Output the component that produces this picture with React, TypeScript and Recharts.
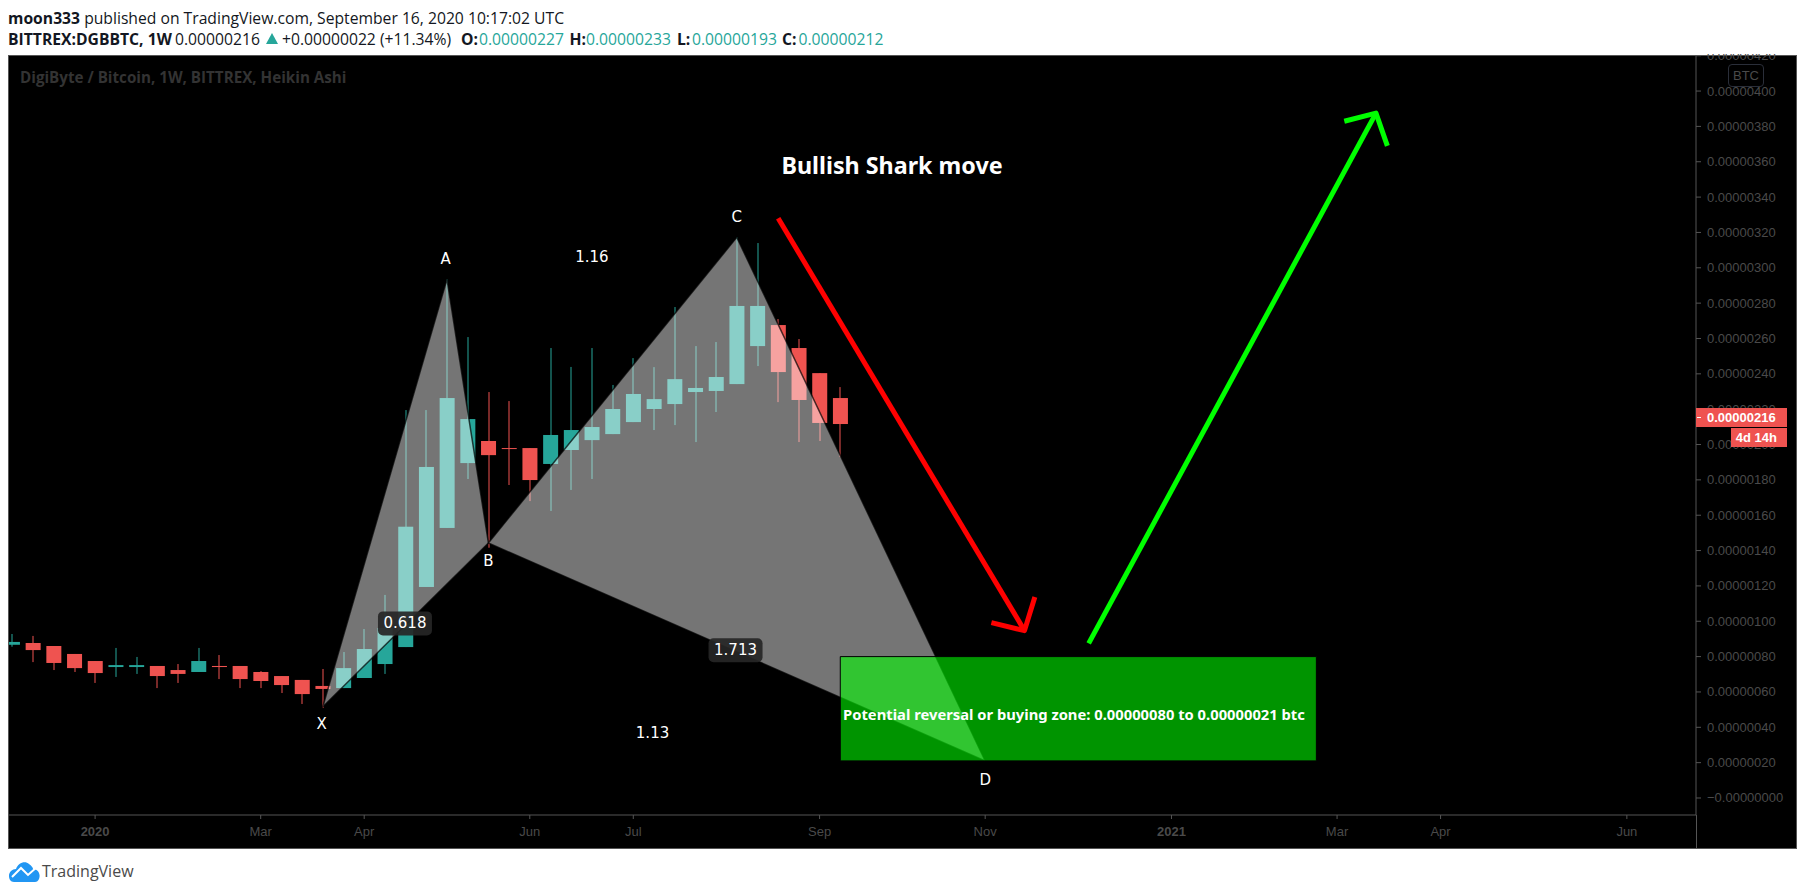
import React from 'react';
import { ComposedChart, Bar, XAxis, YAxis, ReferenceArea, ReferenceDot } from 'recharts';

// All prices are in units of 0.00000001 BTC. Index = weekly bar number.
const candleOpen = [86.7,87.7,86,81.5,77.5,74.1,74.1,74.7,72.4,71.3,74.7,74.7,71.3,69,66.8,63.4,62.2,67.9,75.8,85.4,119.4,152.8,189.5,202,198,198,189,196.9,202.5,205.9,212.7,220.1,222.9,229.7,230.3,234.2,255.7,267.6,254.6,240.4,226.3];
const candleClose = [88.3,83.7,76.4,73.5,70.7,75.2,75.2,69,70.2,77.5,74.1,67.3,66.2,63.9,58.8,61.7,73.5,84.3,96.2,153.5,187.3,226.3,214.4,194,197.5,179.9,205.4,208.2,209.9,220.1,228.6,225.7,237,232,238.2,278.4,278.4,241,225.2,212.2,211.6];
const candleHigh = [92.8,91.7,86,81.5,77.5,84.9,79.8,74.7,75.8,84.9,80.9,74.7,71.8,69,66.8,73,82.6,95.6,114.9,219.5,219.5,293.5,260.8,229.7,224.6,198,254.6,243.9,254.6,233.7,248.9,243.8,277.8,255.7,258,317.2,314,271,259.7,240.4,232.5];
const candleLow = [85.6,76.9,72.4,71.3,65.1,68.5,70.2,62.2,65.1,71.3,67.3,62.2,62.2,59.4,53.2,50.9,62.2,67.9,70.2,85.4,119.4,152.8,180.5,141.6,177.1,168,162.4,174.3,180.5,205.9,212.7,208.2,211,201.4,218.4,234.2,244.4,224,201.4,202,192.9];

const priceTicks = [0,20,40,60,80,100,120,140,160,180,200,220,240,260,280,300,320,340,360,380,400,420];
const timeTicks = [4,12,17,25,30,39,47,56,64,69,78];
const timeLabels = ['2020','Mar','Apr','Jun','Jul','Sep','Nov','2021','Mar','Apr','Jun'];
const boldTimeLabels = ['2020','2021'];

// Shark pattern pivots X, A, B, C, D
const pivotBar = [15,21,23,35,47];
const pivotPrice = [51.6,293.5,144.3,317.2,21];

const redShaftBar = [37,48.9];
const redShaftPrice = [328,94.7];
const redHeadBar = [47.3,48.9,49.4];
const redHeadPrice = [99.2,94.7,113.7];
const greenShaftBar = [52,65.88];
const greenShaftPrice = [87.5,387.5];
const greenHeadBar = [64.35,65.88,66.43];
const greenHeadPrice = [382.9,387.5,369];

const zoneBars = [40,63];
const zonePrices = [21,80];

const noteText = ['Bullish Shark move','X','A','B','C','D','1.16','1.13','0.618','1.713','Potential reversal or buying zone: 0.00000080 to 0.00000021 btc'];
const noteBar = [42.5,14.95,20.94,23,35,47,28,30.93,18.97,34.94,51.29];
const notePrice = [358.4,41.7,305,134.3,328.9,10.2,306.3,36.8,98.8,83.6,47.5];

const headerLine1 = 'published on TradingView.com, September 16, 2020 10:17:02 UTC';
const symbol = 'BITTREX:DGBBTC, 1W';
const lastPrice = '0.00000216';
const change = '+0.00000022 (+11.34%)';
const ohlcLabels = ['O:','H:','L:','C:'];
const ohlcValues = ['0.00000227','0.00000233','0.00000193','0.00000212'];
const watermark = 'DigiByte / Bitcoin, 1W, BITTREX, Heikin Ashi';

const TEAL = '#26a69a';
const RED = '#ef5350';
const FRAME = '#555555';
const AXIS_TEXT = '#4a4a4a';
const UI_FONT = '"Liberation Sans", Arial, sans-serif';
const NOTE_FONT = '"DejaVu Sans", sans-serif';

const table = candleOpen.map((open, i) => ({
  bar: i,
  open,
  close: candleClose[i],
  high: candleHigh[i],
  low: candleLow[i],
  range: [candleLow[i], candleHigh[i]],
}));

function Candle(props: any) {
  const { x, y, width, height, payload } = props;
  const { open, close, high, low } = payload;
  const color = close >= open ? TEAL : RED;
  const ppu = height / (high - low);
  const top = y + (high - Math.max(open, close)) * ppu;
  const bodyH = Math.max(Math.abs(close - open) * ppu, 1);
  const cx = x + width / 2;
  return (
    <g>
      <rect x={Math.round(cx) - 0.5} y={y} width={1} height={height} fill={color} />
      <rect x={cx - 7.5} y={top} width={15} height={bodyH} fill={color} />
    </g>
  );
}

function dataShape(bars: number[], prices: number[], style: any, closed: boolean, key: string) {
  const x1 = Math.min(...bars);
  const x2 = Math.max(...bars);
  const y1 = Math.min(...prices);
  const y2 = Math.max(...prices);
  const shape = (p: any) => {
    const pts = bars
      .map((b, i) => {
        const px = p.x + (p.width * (b - x1)) / (x2 - x1);
        const py = p.y + (p.height * (y2 - prices[i])) / (y2 - y1);
        return `${px},${py}`;
      })
      .join(' ');
    return closed ? <polygon points={pts} {...style} /> : <polyline points={pts} fill="none" {...style} />;
  };
  return (
    <ReferenceArea key={key} x1={x1} x2={x2} y1={y1} y2={y2} ifOverflow="visible" shape={shape} zIndex={700} />
  );
}

const pick = (arr: number[], ix: number[]) => ix.map((i) => arr[i]);
const patternStyle = { fill: '#ffffff', fillOpacity: 0.46, stroke: '#000000', strokeOpacity: 0.7, strokeWidth: 1.5 };

function noteShape(i: number) {
  return (p: any) => {
    const t = noteText[i];
    const { cx, cy } = p;
    if (i === 0) {
      return <text x={cx} y={cy} textAnchor="middle" dominantBaseline="central" fill="#fff" fontFamily='"Noto Sans", sans-serif' fontWeight={700} fontSize={23.3}>{t}</text>;
    }
    if (i === 10) {
      return <text x={cx} y={cy} textAnchor="middle" dominantBaseline="central" fill="#fff" fontFamily='"Noto Sans", sans-serif' fontWeight={700} fontSize={14.75}>{t}</text>;
    }
    const badge = t === '0.618' || t === '1.713';
    return (
      <g>
        {badge && <rect x={cx - 27} y={cy - 12} width={54} height={24} rx={5} fill="#262626" fillOpacity={0.92} />}
        <text x={cx} y={cy} textAnchor="middle" dominantBaseline="central" fill="#fff" fontFamily={NOTE_FONT} fontSize={15}>{t}</text>
      </g>
    );
  };
}

function TimeTick(props: any) {
  const { x, y, payload } = props;
  const label = timeLabels[timeTicks.indexOf(payload.value)];
  const bold = boldTimeLabels.includes(label);
  return (
    <text x={x} y={y + 10} textAnchor="middle" dominantBaseline="central" fill={AXIS_TEXT} fontFamily={UI_FONT} fontWeight={bold ? 700 : 400} fontSize={13}>
      {label}
    </text>
  );
}

function PriceTick(props: any) {
  const { x, y, payload } = props;
  const v = payload.value;
  const s = (v === 0 ? '\u2212' : '') + (v / 1e8).toFixed(8);
  return (
    <text x={x + 1} y={y} dominantBaseline="central" fill={AXIS_TEXT} fontFamily={UI_FONT} fontSize={13}>
      {s}
    </text>
  );
}

const abs = (style: React.CSSProperties): React.CSSProperties => ({ position: 'absolute', whiteSpace: 'nowrap', ...style });
const headerText: React.CSSProperties = { fontFamily: '"Open Sans", sans-serif', fontSize: 15.7, lineHeight: '20px', color: '#131722' };

export default function App() {
  return (
    <div style={{ position: 'absolute', left: 0, top: 0, width: 1805, height: 895, background: '#fff', overflow: 'hidden' }}>
      <div style={abs({ left: 8, top: 55, width: 1789, height: 793, background: '#000' })} />
      <div style={abs({ left: 0, top: 0 })}>
        <ComposedChart
          width={1805}
          height={895}
          data={table}
          margin={{ top: 55, left: 8, right: 8, bottom: 47 }}
        >
          <XAxis
            dataKey="bar"
            type="number"
            domain={[-0.2077, 81.34]}
            allowDataOverflow
            ticks={timeTicks}
            interval={0}
            height={33}
            tick={<TimeTick />}
            tickLine={{ stroke: FRAME }}
            tickSize={4}
            axisLine={{ stroke: FRAME }}
          />
          <YAxis
            orientation="right"
            type="number"
            domain={[-9.62, 420.4]}
            allowDataOverflow
            ticks={priceTicks}
            interval={0}
            width={101}
            tick={<PriceTick />}
            tickLine={{ stroke: FRAME }}
            tickSize={5}
            tickMargin={5}
            axisLine={{ stroke: FRAME }}
          />
          <Bar dataKey="range" barSize={15} isAnimationActive={false} shape={<Candle />} />
          {dataShape(pick(pivotBar, [0, 1, 2]), pick(pivotPrice, [0, 1, 2]), patternStyle, true, 'xab')}
          {dataShape(pick(pivotBar, [2, 3, 4]), pick(pivotPrice, [2, 3, 4]), patternStyle, true, 'bcd')}
          <ReferenceArea x1={zoneBars[0]} x2={zoneBars[1]} y1={zonePrices[0]} y2={zonePrices[1]} fill="#00ff00" fillOpacity={0.58} stroke="#000000" strokeWidth={1} ifOverflow="visible" zIndex={710} />
          {dataShape(redShaftBar, redShaftPrice, { stroke: '#ff0000', strokeWidth: 5 }, false, 'rs')}
          {dataShape(redHeadBar, redHeadPrice, { stroke: '#ff0000', strokeWidth: 5, strokeLinejoin: 'round' }, false, 'rh')}
          {dataShape(greenShaftBar, greenShaftPrice, { stroke: '#00ff00', strokeWidth: 5 }, false, 'gs')}
          {dataShape(greenHeadBar, greenHeadPrice, { stroke: '#00ff00', strokeWidth: 5, strokeLinejoin: 'round' }, false, 'gh')}
          {noteText.map((_, i) => (
            <ReferenceDot key={i} x={noteBar[i]} y={notePrice[i]} r={0} ifOverflow="visible" shape={noteShape(i)} zIndex={720} />
          ))}
        </ComposedChart>
      </div>
      {/* page chrome */}
      <div style={abs({ left: 0, top: 0, width: 1805, height: 54, background: '#fff' })} />
      <div style={abs({ left: 0, top: 54, width: 8, height: 800, background: '#fff' })} />
      <div style={abs({ left: 8, top: 54.5, width: 1789, height: 794, border: `1px solid ${FRAME}`, boxSizing: 'border-box' })} />
      <div style={abs({ left: 1696, top: 815, width: 1, height: 33, background: FRAME })} />
      <div style={abs({ left: 8, top: 8, ...headerText })}>
        <b>moon333</b> {headerLine1}
      </div>
      <div style={abs({ left: 8, top: 29, ...headerText, fontWeight: 700 })}>{symbol}</div>
      <div style={abs({ left: 175, top: 29, ...headerText })}>{lastPrice}</div>
      <svg style={abs({ left: 266, top: 33 })} width={12} height={11}>
        <polygon points="6,0 12,11 0,11" fill={TEAL} />
      </svg>
      <div style={abs({ left: 282, top: 29, ...headerText })}>{change}</div>
      {ohlcLabels.map((l, i) => (
        <React.Fragment key={l}>
          <div style={abs({ left: [461, 569.5, 677, 782][i], top: 29, ...headerText, fontWeight: 700 })}>{l}</div>
          <div style={abs({ left: [479, 586, 692, 798.5][i], top: 29, ...headerText, color: TEAL })}>{ohlcValues[i]}</div>
        </React.Fragment>
      ))}
      <div style={abs({ left: 20, top: 67, fontFamily: '"Open Sans", sans-serif', fontWeight: 700, fontSize: 15.2, lineHeight: '20px', color: '#333333' })}>{watermark}</div>
      <div style={abs({ left: 1728, top: 64, width: 36, height: 23, border: '1px solid #2a2e39', borderRadius: 4, boxSizing: 'border-box', textAlign: 'center', fontFamily: UI_FONT, fontSize: 13, lineHeight: '21px', color: AXIS_TEXT, background: '#000' })}>BTC</div>
      <div style={abs({ left: 1696, top: 408, width: 91, height: 19, background: RED })} />
      <div style={abs({ left: 1697, top: 417, width: 4, height: 1, background: '#fff' })} />
      <div style={abs({ left: 1707, top: 408, fontFamily: UI_FONT, fontWeight: 700, fontSize: 13, lineHeight: '19px', color: '#fff' })}>{lastPrice}</div>
      <div style={abs({ left: 1731, top: 428, width: 56, height: 19, background: RED, boxSizing: 'border-box', paddingRight: 10, textAlign: 'right', fontFamily: UI_FONT, fontWeight: 700, fontSize: 13, lineHeight: '19px', color: '#fff' })}>4d 14h</div>
      <svg style={abs({ left: 8, top: 860 })} width={34} height={24}>
        <path d="M2 20 C-1 14 3 9 8 9 C10 3 17 0 21 4 C24 6 25 8 25 9 C30 9 33 14 31 19 C30 21 29 22 27 22 L6 22 C4 22 3 21 2 20 Z" fill="#2196f3" />
        <polyline points="4,17 13,8 20,15 29,7" fill="none" stroke="#fff" strokeWidth={2} />
      </svg>
      <div style={abs({ left: 42, top: 860, fontFamily: '"Open Sans", sans-serif', fontSize: 16, lineHeight: '22px', color: '#4a4a4a' })}>TradingView</div>
    </div>
  );
}
